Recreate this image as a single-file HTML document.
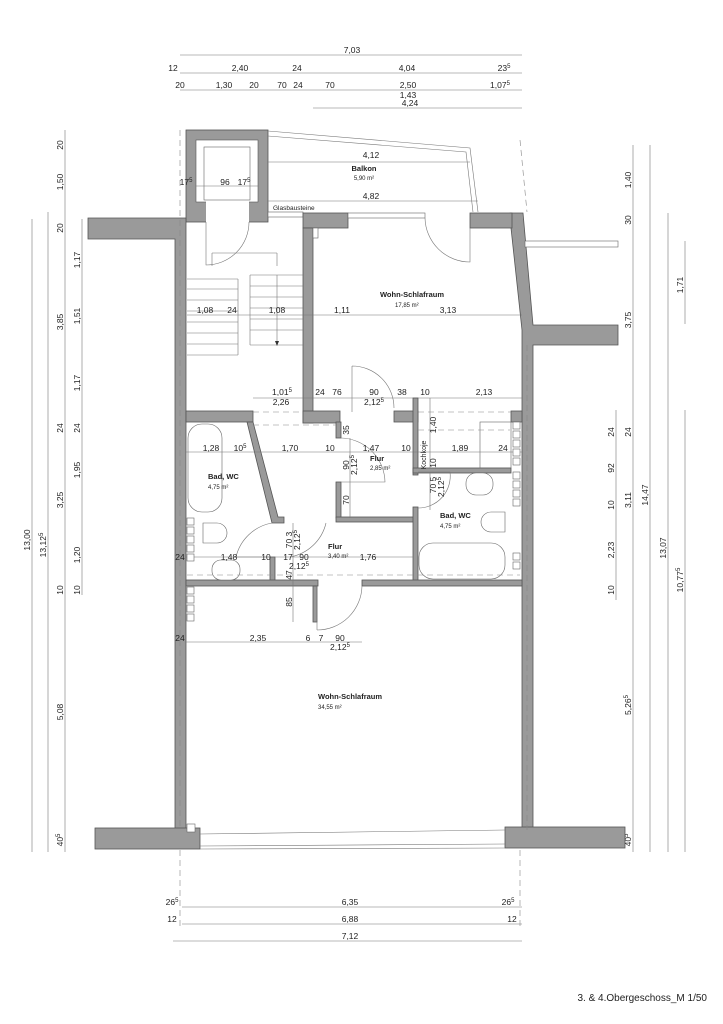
<!DOCTYPE html>
<html><head><meta charset="utf-8"><style>
html,body{margin:0;padding:0;background:#fff}
svg{display:block}
text{font-family:"Liberation Sans",sans-serif;fill:#222}
.d{font-size:8.5px}
.s{font-size:6px}
.b{font-size:7.5px;font-weight:bold}
.w{fill:#9a9a9a;stroke:#555;stroke-width:0.8}
.l{stroke:#777;stroke-width:0.6;fill:none}
.f{stroke:#666;stroke-width:0.6;fill:#fff}
.t{stroke:#666;stroke-width:0.6;fill:none}
.dash{stroke:#888;stroke-width:0.6;fill:none;stroke-dasharray:6 4}
</style></head><body>
<svg width="723" height="1024" viewBox="0 0 723 1024" xmlns="http://www.w3.org/2000/svg">
<!-- top dimensions -->
<g class="l">
<line x1="180" y1="55" x2="522" y2="55"/>
<line x1="180" y1="73" x2="522" y2="73"/>
<line x1="180" y1="90" x2="522" y2="90"/>
<line x1="313" y1="108" x2="522" y2="108"/>
</g>
<g class="d" text-anchor="middle">
<text x="352" y="53">7,03</text>
<text x="173" y="71">12</text><text x="240" y="71">2,40</text><text x="297" y="71">24</text><text x="407" y="71">4,04</text><text x="504" y="71">23<tspan font-size="6" dy="-3">5</tspan></text>
<text x="180" y="88">20</text><text x="224" y="88">1,30</text><text x="254" y="88">20</text><text x="282" y="88">70</text><text x="298" y="88">24</text><text x="330" y="88">70</text><text x="408" y="88">2,50</text><text x="500" y="88">1,07<tspan font-size="6" dy="-3">5</tspan></text>
<text x="408" y="98">1,43</text><text x="410" y="106">4,24</text>
</g>
<!-- side dimension lines -->
<g class="l">
<line x1="32" y1="219" x2="32" y2="852"/>
<line x1="48" y1="212" x2="48" y2="852"/>
<line x1="65" y1="130" x2="65" y2="852"/>
<line x1="82" y1="219" x2="82" y2="595"/>
<line x1="633" y1="145" x2="633" y2="852"/>
<line x1="650" y1="145" x2="650" y2="852"/>
<line x1="668" y1="213" x2="668" y2="852"/>
<line x1="685" y1="241" x2="685" y2="324"/>
<line x1="685" y1="410" x2="685" y2="852"/>
<line x1="616" y1="410" x2="616" y2="600"/>
</g>
<g class="d" text-anchor="middle">
<text transform="translate(63,145) rotate(-90)">20</text>
<text transform="translate(63,182) rotate(-90)">1,50</text>
<text transform="translate(63,228) rotate(-90)">20</text>
<text transform="translate(63,322) rotate(-90)">3,85</text>
<text transform="translate(63,428) rotate(-90)">24</text>
<text transform="translate(63,500) rotate(-90)">3,25</text>
<text transform="translate(63,590) rotate(-90)">10</text>
<text transform="translate(63,712) rotate(-90)">5,08</text>
<text transform="translate(63,840) rotate(-90)">40<tspan font-size="6" dy="-3">5</tspan></text>
<text transform="translate(80,260) rotate(-90)">1,17</text>
<text transform="translate(80,316) rotate(-90)">1,51</text>
<text transform="translate(80,383) rotate(-90)">1,17</text>
<text transform="translate(80,428) rotate(-90)">24</text>
<text transform="translate(80,470) rotate(-90)">1,95</text>
<text transform="translate(80,555) rotate(-90)">1,20</text>
<text transform="translate(80,590) rotate(-90)">10</text>
<text transform="translate(30,540) rotate(-90)">13,00</text>
<text transform="translate(46,545) rotate(-90)">13,12<tspan font-size="6" dy="-3">5</tspan></text>
<text transform="translate(631,180) rotate(-90)">1,40</text>
<text transform="translate(631,220) rotate(-90)">30</text>
<text transform="translate(631,320) rotate(-90)">3,75</text>
<text transform="translate(614,432) rotate(-90)">24</text>
<text transform="translate(614,468) rotate(-90)">92</text>
<text transform="translate(614,505) rotate(-90)">10</text>
<text transform="translate(614,550) rotate(-90)">2,23</text>
<text transform="translate(614,590) rotate(-90)">10</text>
<text transform="translate(631,432) rotate(-90)">24</text>
<text transform="translate(631,500) rotate(-90)">3,11</text>
<text transform="translate(631,705) rotate(-90)">5,26<tspan font-size="6" dy="-3">5</tspan></text>
<text transform="translate(631,840) rotate(-90)">40<tspan font-size="6" dy="-3">5</tspan></text>
<text transform="translate(648,495) rotate(-90)">14,47</text>
<text transform="translate(666,548) rotate(-90)">13,07</text>
<text transform="translate(683,285) rotate(-90)">1,71</text>
<text transform="translate(683,580) rotate(-90)">10,77<tspan font-size="6" dy="-3">5</tspan></text>
</g>
<!-- bottom dimensions -->
<g class="l">
<line x1="182" y1="907" x2="522" y2="907"/>
<line x1="182" y1="924" x2="522" y2="924"/>
<line x1="173" y1="941" x2="522" y2="941"/>
<line class="dash" x1="180" y1="850" x2="180" y2="930"/>
<line class="dash" x1="520" y1="850" x2="520" y2="930"/>
</g>
<g class="d" text-anchor="middle">
<text x="172" y="905">26<tspan font-size="6" dy="-3">5</tspan></text>
<text x="350" y="905">6,35</text>
<text x="508" y="905">26<tspan font-size="6" dy="-3">5</tspan></text>
<text x="172" y="922">12</text><text x="350" y="922">6,88</text><text x="512" y="922">12</text>
<text x="350" y="939">7,12</text>
</g>
<text x="707" y="1001" text-anchor="end" style="font-size:10px">3. &amp; 4.Obergeschoss_M 1/50</text>

<!-- exterior walls -->
<rect class="w" x="186" y="130" width="82" height="92"/>
<rect x="196" y="140" width="62" height="62" fill="#fff" stroke="#555" stroke-width="0.6"/>
<rect x="206" y="200" width="43" height="23" fill="#fff"/>
<rect class="f" x="204" y="147" width="46" height="53"/>
<polygon class="w" points="88,218 186,218 186,830 175,830 175,239 88,239"/>
<rect class="w" x="95" y="828" width="105" height="21"/>
<polygon class="w" points="510,213 523,213 533,325 618,325 618,345 533,345 533,830 522,830 522,330 511,228"/>
<rect class="w" x="505" y="827" width="120" height="21"/>
<rect class="f" x="525" y="241" width="93" height="6"/>
<line class="l" x1="200" y1="834" x2="505" y2="830"/>
<line class="l" x1="200" y1="846" x2="505" y2="844"/>
<line class="l" x1="200" y1="849" x2="505" y2="848"/>
<!-- balcony -->
<polyline class="l" points="268,131 470,148 478,212" stroke="#555"/>
<polyline class="l" points="268,136 466,152 473,212" stroke="#555"/>
<line class="l" x1="268" y1="162" x2="470" y2="162"/>
<line class="l" x1="268" y1="201" x2="478" y2="201"/>
<line class="l" x1="196" y1="186" x2="258" y2="186"/>
<g class="d" text-anchor="middle"><text x="371" y="158">4,12</text><text x="371" y="199">4,82</text>
<text x="186" y="185">17<tspan font-size="6" dy="-3">5</tspan></text><text x="225" y="185">96</text><text x="244" y="185">17<tspan font-size="6" dy="-3">5</tspan></text></g>
<text class="b" x="364" y="171" text-anchor="middle">Balkon</text>
<text class="s" x="364" y="180" text-anchor="middle">5,90 m²</text>
<text x="273" y="210" style="font-size:6.5px">Glasbausteine</text>
<rect class="f" x="268" y="212" width="35" height="5"/>
<line class="dash" x1="520" y1="140" x2="527" y2="212"/>
<!-- Wohn top walls -->
<rect class="w" x="303" y="213" width="45" height="15"/>
<rect class="f" x="348" y="213" width="77" height="5"/>
<rect class="w" x="470" y="213" width="42" height="15"/>
<rect class="w" x="303" y="228" width="10" height="195"/>
<rect class="f" x="313" y="228" width="5" height="10"/>
<!-- doors top -->
<path class="l" d="M206,222 L206,265 A43,43 0 0 0 249,222"/>
<path class="l" d="M470,228 L470,262 A45,45 0 0 1 425,218"/>
<!-- stairs -->
<g class="l">
<line x1="212" y1="253" x2="212" y2="266"/><line x1="212" y1="253" x2="277" y2="253"/><line x1="277" y1="253" x2="277" y2="266"/>
<path d="M187,279 H238 M187,289 H238 M187,300 H238 M187,311 H238 M187,322 H238 M187,333 H238 M187,344 H238 M187,355 H238"/>
<path d="M238,279 V355 M250,275 V345 M250,275 H303 M250,286 H303 M250,297 H303 M250,308 H303 M250,319 H303 M250,330 H303 M250,345 H303"/>
<line x1="277" y1="275" x2="277" y2="344"/>
<line x1="187" y1="315" x2="522" y2="315"/>
</g>
<polygon points="275,341 279,341 277,346" fill="#333"/>
<g class="d" text-anchor="middle"><text x="205" y="313">1,08</text><text x="232" y="313">24</text><text x="277" y="313">1,08</text><text x="342" y="313">1,11</text><text x="448" y="313">3,13</text></g>
<text class="b" x="412" y="297" text-anchor="middle">Wohn-Schlafraum</text>
<text class="s" x="395" y="307">17,85 m²</text>
<!-- middle horizontal walls -->
<rect class="w" x="186" y="411" width="67" height="11"/>
<rect class="w" x="303" y="411" width="37" height="12"/>
<rect class="w" x="394" y="411" width="24" height="11"/>
<rect class="w" x="511" y="411" width="11" height="11"/>
<line class="dash" x1="253" y1="412" x2="303" y2="412"/>
<line class="dash" x1="418" y1="412" x2="511" y2="412"/>
<line class="l" x1="253" y1="398" x2="522" y2="398"/>
<g class="d" text-anchor="middle"><text x="282" y="395">1,01<tspan font-size="6" dy="-3">5</tspan></text><text x="281" y="405">2,26</text><text x="320" y="395">24</text><text x="337" y="395">76</text><text x="374" y="395">90</text><text x="374" y="405">2,12<tspan font-size="6" dy="-3">5</tspan></text><text x="402" y="395">38</text><text x="425" y="395">10</text><text x="484" y="395">2,13</text></g>
<path class="l" d="M352,366 L352,412 M352,366 A42,42 0 0 1 394,408"/>
<!-- flur walls -->
<rect class="w" x="336" y="422" width="5" height="16"/>
<rect class="w" x="336" y="482" width="5" height="36"/>
<rect class="w" x="336" y="517" width="78" height="5"/>
<rect class="w" x="413" y="398" width="5" height="77"/>
<rect class="w" x="413" y="468" width="98" height="5"/>
<rect class="w" x="413" y="507" width="5" height="78"/>
<polygon class="w" points="247,422 253,422 278,517 284,517 284,523 272,523"/>
<rect class="w" x="270" y="557" width="5" height="25"/>
<rect class="w" x="186" y="580" width="132" height="6"/>
<rect class="w" x="362" y="580" width="160" height="6"/>
<rect class="w" x="313" y="586" width="4" height="36"/>
<path class="l" d="M341,438 A45,45 0 0 1 385,482 L341,482"/>
<path class="l" d="M418,472 L450,472 A32,32 0 0 1 418,508"/>
<path class="l" d="M272,523 A45,45 0 0 0 236,557 L270,557"/>
<path class="l" d="M326,523 A45,45 0 0 1 290,557"/>
<path class="l" d="M317,630 L317,586 M317,630 A45,45 0 0 0 362,586"/>
<!-- fixtures -->
<rect class="t" x="188" y="424" width="34" height="88" rx="14"/>
<path class="f" d="M203,523 h14 a10,10 0 0 1 0,20 h-14 z"/>
<rect class="f" x="212" y="560" width="28" height="20" rx="9"/>
<rect class="t" x="419" y="543" width="86" height="36" rx="14"/>
<rect class="f" x="466" y="473" width="27" height="22" rx="10"/>
<path class="f" d="M505,512 h-14 a10,10 0 0 0 0,20 h14 z"/>
<rect class="t" x="480" y="422" width="31" height="46"/>
<line class="dash" x1="418" y1="430" x2="510" y2="430"/>
<line class="dash" x1="187" y1="575" x2="520" y2="575"/>
<line class="dash" x1="253" y1="425" x2="336" y2="425"/>
<!-- dims in the middle -->
<g class="l"><line x1="186" y1="452" x2="522" y2="452"/><line x1="186" y1="557" x2="413" y2="557"/><line x1="186" y1="642" x2="362" y2="642"/>
<line x1="350" y1="438" x2="350" y2="518"/><line x1="293" y1="523" x2="293" y2="622"/><line x1="430" y1="398" x2="430" y2="468"/><line x1="430" y1="473" x2="430" y2="510"/></g>
<g class="d" text-anchor="middle"><text x="211" y="451">1,28</text><text x="240" y="451">10<tspan font-size="6" dy="-3">5</tspan></text><text x="290" y="451">1,70</text><text x="330" y="451">10</text><text x="371" y="451">1,47</text><text x="406" y="451">10</text><text x="460" y="451">1,89</text><text x="503" y="451">24</text>
<text x="180" y="560">24</text><text x="229" y="560">1,48</text><text x="266" y="560">10</text><text x="288" y="560">17</text><text x="304" y="560">90</text><text x="368" y="560">1,76</text><text x="299" y="569">2,12<tspan font-size="6" dy="-3">5</tspan></text>
<text x="180" y="641">24</text><text x="258" y="641">2,35</text><text x="308" y="641">6</text><text x="321" y="641">7</text><text x="340" y="641">90</text><text x="340" y="650">2,12<tspan font-size="6" dy="-3">5</tspan></text>
<text transform="translate(349,430) rotate(-90)">35</text><text transform="translate(349,465) rotate(-90)">90</text><text transform="translate(357,465) rotate(-90)">2,12<tspan font-size="6" dy="-3">5</tspan></text><text transform="translate(349,500) rotate(-90)">70</text>
<text transform="translate(292,540) rotate(-90)">70 3</text><text transform="translate(300,540) rotate(-90)">2,12<tspan font-size="6" dy="-3">5</tspan></text><text transform="translate(292,575) rotate(-90)">47</text><text transform="translate(292,602) rotate(-90)">85</text>
<text transform="translate(436,425) rotate(-90)">1,40</text><text transform="translate(436,463) rotate(-90)">10</text><text transform="translate(436,485) rotate(-90)">70 5</text><text transform="translate(444,487) rotate(-90)">2,12<tspan font-size="6" dy="-3">5</tspan></text></g>
<text transform="translate(426,455) rotate(-90)" style="font-size:7px" text-anchor="middle">Kochkoje</text>
<text class="b" x="370" y="461">Flur</text><text class="s" x="370" y="470">2,85 m²</text>
<text class="b" x="328" y="549">Flur</text><text class="s" x="328" y="558">3,40 m²</text>
<text class="b" x="208" y="479">Bad, WC</text><text class="s" x="208" y="489">4,75 m²</text>
<text class="b" x="440" y="518">Bad, WC</text><text class="s" x="440" y="528">4,75 m²</text>
<text class="b" x="318" y="699">Wohn-Schlafraum</text><text class="s" x="318" y="709">34,55 m²</text>
<!-- window squares -->
<g class="f">
<rect x="187" y="518" width="7" height="7"/><rect x="187" y="527" width="7" height="7"/><rect x="187" y="536" width="7" height="7"/><rect x="187" y="545" width="7" height="7"/><rect x="187" y="554" width="7" height="7"/>
<rect x="187" y="587" width="7" height="7"/><rect x="187" y="596" width="7" height="7"/><rect x="187" y="605" width="7" height="7"/><rect x="187" y="614" width="7" height="7"/>
<rect x="513" y="422" width="7" height="7"/><rect x="513" y="431" width="7" height="7"/><rect x="513" y="440" width="7" height="7"/><rect x="513" y="449" width="7" height="7"/><rect x="513" y="458" width="7" height="7"/>
<rect x="513" y="472" width="7" height="7"/><rect x="513" y="481" width="7" height="7"/><rect x="513" y="490" width="7" height="7"/><rect x="513" y="499" width="7" height="7"/>
<rect x="513" y="553" width="7" height="7"/><rect x="513" y="562" width="7" height="7"/>
<rect x="187" y="824" width="8" height="8"/>
</g>
<line class="dash" x1="180" y1="130" x2="180" y2="830"/>
<line class="dash" x1="527" y1="345" x2="527" y2="830"/>
</svg>
</body></html>
